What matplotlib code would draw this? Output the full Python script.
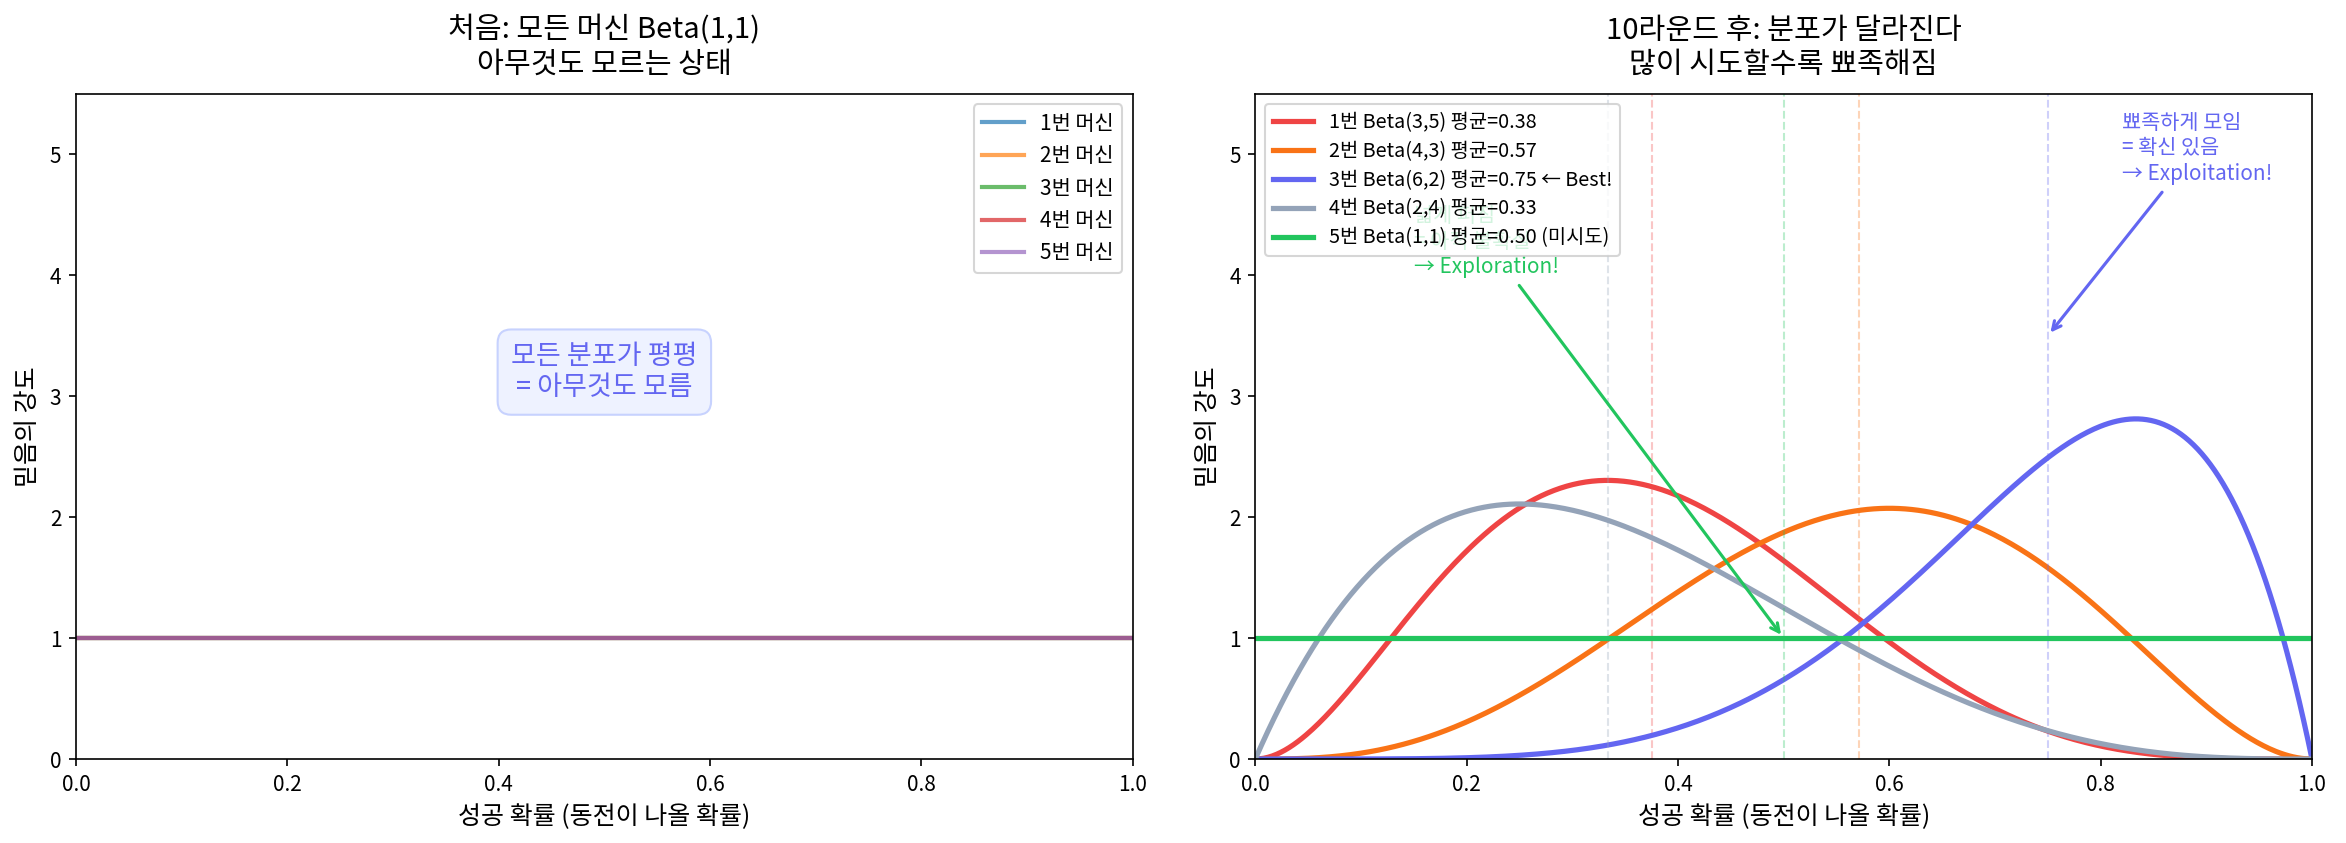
import matplotlib
matplotlib.use("Agg")
import matplotlib.pyplot as plt
import numpy as np
from math import gamma

plt.rcParams['font.family'] = ['Noto Sans CJK KR', 'DejaVu Sans']
plt.rcParams['axes.unicode_minus'] = False

# data
machines = ['1번', '2번', '3번', '4번', '5번']
prior_a = [1, 1, 1, 1, 1]
prior_b = [1, 1, 1, 1, 1]
prior_colors = ['#1f77b4', '#ff7f0e', '#2ca02c', '#d62728', '#9467bd']

post_a = [3, 4, 6, 2, 1]
post_b = [5, 3, 2, 4, 1]
post_colors = ['#ef4444', '#f97316', '#6366f1', '#94a3b8', '#22c55e']
post_notes = ['', '', ' ← Best!', '', ' (미시도)']


def beta_pdf(x, a, b):
    return x ** (a - 1) * (1 - x) ** (b - 1) * gamma(a + b) / (gamma(a) * gamma(b))


x = np.linspace(0, 1, 500)

fig, (ax1, ax2) = plt.subplots(1, 2, figsize=(15.64, 5.62), dpi=150)
fig.subplots_adjust(left=0.0324, right=0.9855, bottom=0.0996, top=0.8885, wspace=0.116)

# left: prior
for name, a, b, c in zip(machines, prior_a, prior_b, prior_colors):
    ax1.plot(x, beta_pdf(x, a, b), color=c, lw=2, alpha=0.7, label=f'{name} 머신')
ax1.set_xlim(0, 1)
ax1.set_ylim(0, 5.5)
ax1.set_title('처음: 모든 머신 Beta(1,1)\n아무것도 모르는 상태', fontsize=14, pad=10)
ax1.set_xlabel('성공 확률 (동전이 나올 확률)', fontsize=12)
ax1.set_ylabel('믿음의 강도', fontsize=12)
ax1.legend(loc='upper right', fontsize=10)
ax1.text(0.5, 3.2, '모든 분포가 평평\n= 아무것도 모름', ha='center', va='center',
         fontsize=13, color='#6366f1',
         bbox=dict(boxstyle='round,pad=0.5', facecolor='#eef2ff', edgecolor='#c7d2fe'))

# right: posterior after 10 rounds
for name, a, b, c, note in zip(machines, post_a, post_b, post_colors, post_notes):
    mean = a / (a + b)
    ax2.plot(x, beta_pdf(x, a, b), color=c, lw=2.5,
             label=f'{name} Beta({a},{b}) 평균={mean:.2f}{note}')
    ax2.axvline(mean, color=c, ls='--', lw=1, alpha=0.3)

ax2.annotate('넓게 퍼짐\n= 아직 불확실\n→ Exploration!', xy=(0.5, 1.0), xytext=(0.15, 4.28),
             fontsize=10, color='#22c55e', ha='left', va='center',
             arrowprops=dict(arrowstyle='->', color='#22c55e', lw=1.5))
ax2.annotate('뾰족하게 모임\n= 확신 있음\n→ Exploitation!', xy=(0.75, 3.5), xytext=(0.82, 5.05),
             fontsize=10, color='#6366f1', ha='left', va='center',
             arrowprops=dict(arrowstyle='->', color='#6366f1', lw=1.5))

ax2.set_xlim(0, 1)
ax2.set_ylim(0, 5.5)
ax2.set_title('10라운드 후: 분포가 달라진다\n많이 시도할수록 뾰족해짐', fontsize=14, pad=10)
ax2.set_xlabel('성공 확률 (동전이 나올 확률)', fontsize=12)
ax2.set_ylabel('믿음의 강도', fontsize=12)
ax2.legend(loc='upper left', fontsize=9.5, labelspacing=0.4)

plt.savefig('out.png', dpi=150)
